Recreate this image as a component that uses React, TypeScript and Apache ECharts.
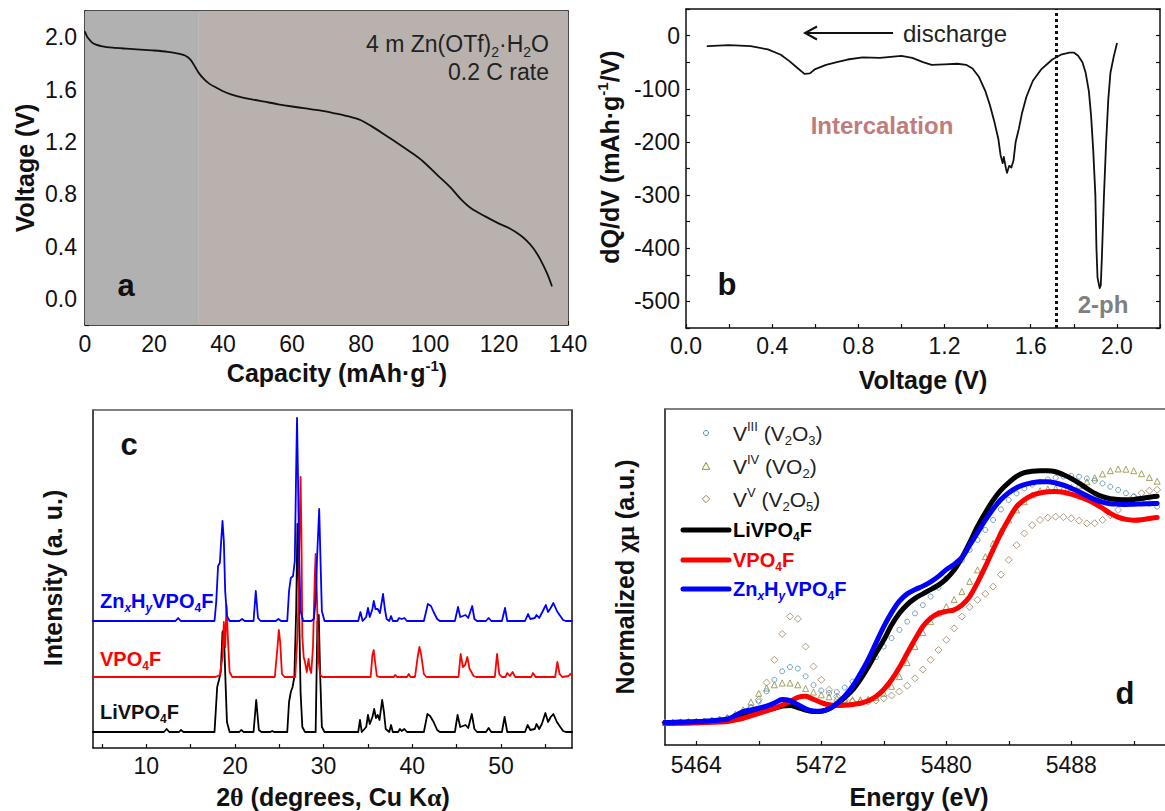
import { useEffect, useRef } from 'react';
import * as echarts from 'echarts';

const FONT = "'Liberation Sans', Arial, Helvetica, sans-serif";
const SERIF = "'Liberation Serif', 'DejaVu Serif', serif";
const INK = '#111111';

// ---------- (a) galvanostatic discharge curve ----------
const capacity = [0, 0.5, 1, 2, 3, 5, 8, 12, 16, 20, 24, 27, 29, 30.5, 32, 33, 34.5, 36, 38, 41, 44, 48, 52, 56, 60, 64, 68, 72, 76, 80, 83, 86, 90, 95, 98, 102, 106, 109, 112, 116, 120, 123, 126, 128, 130, 132, 134, 135.3];
const voltage = [2.04, 2.01, 1.99, 1.96, 1.945, 1.93, 1.92, 1.912, 1.905, 1.898, 1.888, 1.875, 1.86, 1.83, 1.77, 1.725, 1.68, 1.645, 1.615, 1.575, 1.55, 1.527, 1.507, 1.487, 1.47, 1.455, 1.44, 1.42, 1.397, 1.365, 1.32, 1.27, 1.2, 1.11, 1.05, 0.95, 0.85, 0.76, 0.69, 0.63, 0.575, 0.54, 0.49, 0.445, 0.385, 0.3, 0.19, 0.1];
const shadeSplit = 33;

// ---------- (b) differential capacity ----------
const dqdvVoltage = [0.1, 0.2, 0.3, 0.38, 0.44, 0.48, 0.52, 0.55, 0.575, 0.6, 0.65, 0.7, 0.75, 0.82, 0.9, 1.0, 1.05, 1.1, 1.14, 1.2, 1.26, 1.3, 1.33, 1.36, 1.39, 1.41, 1.43, 1.45, 1.46, 1.47, 1.475, 1.485, 1.49, 1.5, 1.51, 1.52, 1.53, 1.545, 1.56, 1.58, 1.61, 1.65, 1.7, 1.74, 1.78, 1.8, 1.82, 1.84, 1.855, 1.87, 1.88, 1.89, 1.9, 1.905, 1.91, 1.915, 1.92, 1.925, 1.93, 1.94, 1.95, 1.96, 1.97, 1.985, 2.0];
const dqdvValue = [-20, -18, -20, -26, -36, -48, -62, -72, -71, -63, -55, -50, -45, -41, -42, -38, -42, -50, -55, -54, -53, -55, -62, -78, -105, -130, -160, -195, -225, -240, -228, -250, -258, -245, -248, -235, -200, -175, -145, -115, -85, -63, -45, -36, -32, -32, -38, -50, -70, -105, -150, -215, -300, -400, -455, -465, -475, -470, -420, -300, -200, -120, -70, -40, -15];
const twoPhaseBoundary = 1.72;

// ---------- (c) XRD patterns: [2theta, intensity above own baseline] ----------
const xrdOffsetLi = 16;
const xrdOffsetV = 71;
const xrdOffsetZn = 127;
const xrdLi = [[4, 0], [12.0, 0], [12.3, 3], [12.6, 0], [13.7, 0], [13.9, 2], [14.2, 0], [17.7, 0], [18.0, 45], [18.2, 52], [18.4, 60], [18.6, 100], [18.75, 102], [18.9, 60], [19.1, 10], [19.4, 0], [20.5, 0], [20.7, 2], [21, 0], [22.1, 0], [22.4, 32], [22.7, 2], [23.0, 0], [24.0, 0], [24.2, 1], [24.4, 0], [25.9, 0], [26.1, 30], [26.3, 40], [26.5, 45], [26.7, 55], [26.9, 120], [27.05, 208], [27.2, 140], [27.4, 40], [27.6, 5], [27.9, 0], [29.1, 0], [29.3, 110], [29.45, 117], [29.6, 60], [29.8, 5], [30.1, 0], [33.9, 0], [34.1, 12], [34.3, 0], [34.8, 5], [35.0, 17], [35.2, 8], [35.5, 15], [35.7, 23], [35.9, 14], [36.1, 17], [36.3, 12], [36.6, 32], [36.8, 20], [37.0, 3], [37.4, 0], [37.6, 7], [37.8, 0], [38.4, 0], [38.6, 3], [38.8, 1], [39.1, 3], [39.4, 0], [41.3, 0], [41.7, 18], [42.0, 16], [42.4, 10], [42.8, 2], [43.1, 0], [44.8, 0], [45.1, 17], [45.4, 5], [45.7, 6], [46.0, 7], [46.3, 4], [46.7, 18], [47.0, 3], [47.3, 0], [48.3, 0], [48.6, 4], [48.9, 0], [50.1, 0], [50.4, 15], [50.7, 0], [52.7, 0], [53.0, 7], [53.3, 2], [53.8, 3], [54.0, 8], [54.3, 3], [54.6, 8], [55.0, 19], [55.3, 10], [55.6, 15], [55.9, 18], [56.3, 10], [56.6, 6], [57.0, 1], [57.3, 0], [58, 0]];
const xrdV = [[4, 0], [17.8, 0], [18.3, 2], [18.6, 20], [18.75, 55], [18.9, 30], [19.05, 72], [19.2, 40], [19.4, 5], [19.7, 0], [24.5, 0], [24.8, 30], [24.95, 47], [25.1, 35], [25.3, 3], [25.6, 0], [26.8, 0], [27.1, 50], [27.3, 150], [27.4, 200], [27.5, 140], [27.6, 40], [27.75, 20], [27.9, 15], [28.1, 5], [28.3, 18], [28.45, 8], [28.6, 4], [28.8, 30], [29.0, 100], [29.1, 123], [29.25, 80], [29.4, 20], [29.6, 2], [29.9, 0], [35.3, 0], [35.5, 22], [35.65, 27], [35.8, 15], [36.0, 1], [36.3, 0], [37.9, 0], [38.05, 2], [38.3, 0], [39.4, 0], [39.6, 3], [39.8, 0], [40.3, 0], [40.6, 20], [40.8, 30], [41.0, 22], [41.3, 3], [41.6, 0], [45.2, 0], [45.45, 23], [45.7, 10], [45.95, 12], [46.2, 20], [46.45, 8], [46.6, 6], [46.9, 1], [47.2, 0], [49.3, 0], [49.55, 23], [49.8, 3], [50.1, 0], [50.5, 0], [50.7, 4], [51.0, 1], [51.3, 5], [51.6, 0], [53.4, 0], [53.6, 4], [53.9, 0], [56.1, 0], [56.35, 15], [56.6, 3], [56.9, 0], [57.6, 1], [57.8, 3], [58, 1]];
const xrdZn = [[4, 0], [13.3, 0], [13.6, 3], [13.9, 0], [17.7, 0], [17.9, 20], [18.1, 55], [18.3, 58], [18.45, 80], [18.6, 100], [18.75, 80], [18.9, 30], [19.1, 5], [19.4, 0], [20.5, 0], [20.8, 2], [21.1, 0], [22.1, 0], [22.35, 30], [22.6, 3], [22.9, 0], [24.6, 0], [24.9, 2], [25.2, 0], [25.9, 0], [26.1, 30], [26.3, 43], [26.55, 45], [26.75, 60], [26.9, 150], [27.0, 203], [27.1, 150], [27.25, 60], [27.4, 10], [27.7, 0], [28.6, 0], [28.9, 2], [29.1, 20], [29.25, 61], [29.5, 112], [29.65, 60], [29.8, 10], [30.1, 0], [33.9, 0], [34.15, 9], [34.4, 0], [34.8, 4], [35.0, 13], [35.2, 4], [35.5, 12], [35.65, 20], [35.85, 12], [36.1, 12], [36.35, 8], [36.7, 27], [36.9, 12], [37.1, 2], [37.4, 0], [37.6, 5], [37.8, 0], [38.3, 0], [38.5, 3], [38.8, 2], [39.1, 3], [39.4, 0], [41.3, 0], [41.75, 17], [42.1, 15], [42.4, 9], [42.8, 2], [43.1, 0], [44.8, 0], [45.15, 14], [45.4, 4], [45.7, 5], [46.0, 6], [46.3, 3], [46.75, 15], [47.0, 2], [47.3, 0], [48.3, 0], [48.6, 3], [48.9, 0], [50.1, 0], [50.45, 13], [50.7, 0], [52.7, 0], [53.05, 7], [53.3, 2], [53.8, 3], [54.0, 6], [54.3, 3], [54.6, 8], [55.05, 16], [55.3, 9], [55.6, 13], [55.9, 18], [56.3, 10], [56.6, 6], [57.0, 1], [57.3, 0], [58, 0]];

// ---------- (d) V K-edge XANES ----------
const energy = [
  5462, 5462.5, 5463, 5463.5, 5464, 5464.5, 5465, 5465.5,
  5466, 5466.5, 5467, 5467.5, 5468, 5468.5, 5469, 5469.5,
  5470, 5470.5, 5471, 5471.5, 5472, 5472.5, 5473, 5473.5,
  5474, 5474.5, 5475, 5475.5, 5476, 5476.5, 5477, 5477.5,
  5478, 5478.5, 5479, 5479.5, 5480, 5480.5, 5481, 5481.5,
  5482, 5482.5, 5483, 5483.5, 5484, 5484.5, 5485, 5485.5,
  5486, 5486.5, 5487, 5487.5, 5488, 5488.5, 5489, 5489.5,
  5490, 5490.5, 5491, 5491.5, 5492, 5492.5, 5493, 5493.5,
];
const muLiVPO4F = [
  0.000, 0.000, 0.001, 0.002, 0.003, 0.004, 0.005, 0.007,
  0.010, 0.016, 0.024, 0.033, 0.042, 0.050, 0.057, 0.066,
  0.068, 0.060, 0.050, 0.044, 0.045, 0.055, 0.075, 0.100,
  0.130, 0.172, 0.222, 0.278, 0.330, 0.390, 0.437, 0.472,
  0.497, 0.515, 0.532, 0.550, 0.575, 0.610, 0.660, 0.720,
  0.785, 0.840, 0.890, 0.930, 0.960, 0.985, 1.000, 1.006,
  1.008, 1.008, 1.004, 0.992, 0.977, 0.958, 0.937, 0.918,
  0.904, 0.896, 0.893, 0.892, 0.893, 0.897, 0.902, 0.906,
];
const muVPO4F = [
  -0.004, -0.004, -0.003, -0.002, -0.001, 0.000, 0.001, 0.002,
  0.004, 0.010, 0.017, 0.027, 0.037, 0.047, 0.057, 0.070,
  0.084, 0.101, 0.105, 0.093, 0.080, 0.071, 0.068, 0.069,
  0.072, 0.077, 0.087, 0.104, 0.132, 0.171, 0.220, 0.277,
  0.333, 0.384, 0.418, 0.437, 0.445, 0.451, 0.470, 0.504,
  0.560, 0.624, 0.692, 0.757, 0.815, 0.864, 0.892, 0.910,
  0.919, 0.924, 0.925, 0.922, 0.914, 0.904, 0.892, 0.877,
  0.858, 0.837, 0.822, 0.813, 0.810, 0.812, 0.817, 0.821,
];
const muZnHVPO4F = [
  0.000, 0.000, 0.001, 0.002, 0.003, 0.005, 0.007, 0.010,
  0.014, 0.028, 0.044, 0.050, 0.057, 0.066, 0.078, 0.092,
  0.088, 0.072, 0.055, 0.046, 0.045, 0.055, 0.075, 0.105,
  0.144, 0.195, 0.252, 0.318, 0.384, 0.440, 0.486, 0.515,
  0.532, 0.546, 0.563, 0.585, 0.612, 0.633, 0.660, 0.710,
  0.760, 0.810, 0.855, 0.893, 0.920, 0.940, 0.952, 0.960,
  0.964, 0.964, 0.959, 0.950, 0.938, 0.924, 0.908, 0.893,
  0.882, 0.876, 0.874, 0.873, 0.874, 0.875, 0.876, 0.877,
];
const muV2O3 = [
  0.000, 0.000, 0.001, 0.002, 0.003, 0.005, 0.008, 0.012,
  0.018, 0.028, 0.042, 0.060, 0.084, 0.125, 0.171, 0.205,
  0.222, 0.216, 0.185, 0.150, 0.128, 0.118, 0.122, 0.140,
  0.164, 0.192, 0.224, 0.262, 0.304, 0.338, 0.371, 0.404,
  0.437, 0.470, 0.504, 0.540, 0.577, 0.614, 0.651, 0.691,
  0.731, 0.771, 0.811, 0.853, 0.891, 0.917, 0.937, 0.952,
  0.964, 0.973, 0.980, 0.985, 0.987, 0.984, 0.977, 0.968,
  0.957, 0.944, 0.931, 0.918, 0.904, 0.891, 0.877, 0.864,
];
const muVO2 = [
  0.000, 0.000, 0.001, 0.002, 0.003, 0.005, 0.008, 0.012,
  0.020, 0.033, 0.051, 0.082, 0.117, 0.138, 0.151, 0.158,
  0.158, 0.151, 0.136, 0.122, 0.111, 0.103, 0.097, 0.093,
  0.091, 0.091, 0.093, 0.101, 0.117, 0.145, 0.184, 0.240,
  0.304, 0.360, 0.404, 0.438, 0.464, 0.492, 0.524, 0.565,
  0.611, 0.664, 0.717, 0.766, 0.811, 0.851, 0.884, 0.911,
  0.928, 0.935, 0.937, 0.938, 0.941, 0.950, 0.964, 0.980,
  0.995, 1.008, 1.015, 1.014, 1.008, 0.996, 0.981, 0.966,
];
const muV2O5 = [
  0.000, 0.000, 0.001, 0.002, 0.003, 0.004, 0.006, 0.010,
  0.015, 0.024, 0.037, 0.058, 0.091, 0.160, 0.251, 0.355,
  0.425, 0.415, 0.304, 0.224, 0.171, 0.131, 0.104, 0.092,
  0.084, 0.082, 0.083, 0.088, 0.097, 0.108, 0.124, 0.147,
  0.177, 0.212, 0.251, 0.290, 0.331, 0.377, 0.424, 0.462,
  0.491, 0.515, 0.544, 0.592, 0.651, 0.710, 0.757, 0.790,
  0.811, 0.820, 0.824, 0.822, 0.817, 0.808, 0.797, 0.798,
  0.811, 0.830, 0.851, 0.878, 0.904, 0.918, 0.928, 0.932,
];

const xrdTicks = [5, 10, 15, 20, 25, 30, 35, 40, 45, 50, 55];
const xrdLabels = [10, 20, 30, 40, 50];
const energyTicks = [5464, 5468, 5472, 5476, 5480, 5484, 5488, 5492];
const energyLabels = [5464, 5472, 5480, 5488];

const C_V2O3 = '#4f8db0';
const C_VO2 = '#8c8c3a';
const C_V2O5 = '#a07f5e';

function pairs(xs: number[], ys: number[]) {
  return xs.map((x, i) => [x, ys[i]]);
}
function shift(pts: number[][], off: number) {
  return pts.map(([x, y]) => [x, y + off]);
}

// rich text styles: n normal, s superscript, b subscript, i italic subscript, g greek (serif)
function richStyles(size: number, weight: string, color: string) {
  const small = Math.round(size * 0.6);
  const base = { fontFamily: FONT, fontWeight: weight, fill: color, color };
  return {
    n: { ...base, fontSize: size, lineHeight: size + 6 },
    s: { ...base, fontSize: small, lineHeight: Math.round(size * 0.7), verticalAlign: 'top' },
    b: { ...base, fontSize: small, lineHeight: Math.round(size * 0.5), verticalAlign: 'bottom' },
    i: { ...base, fontSize: small, fontStyle: 'italic', lineHeight: Math.round(size * 0.5), verticalAlign: 'bottom' },
    g: { ...base, fontFamily: SERIF, fontSize: size + 1, lineHeight: size + 6 },
  };
}

function label(text: string, x: number, y: number, size: number, weight: string, color: string, opts: any = {}) {
  return {
    type: 'text',
    x,
    y,
    rotation: opts.rotation || 0,
    z: 100,
    style: {
      text,
      rich: richStyles(size, weight, color),
      align: opts.align || 'center',
      verticalAlign: 'middle',
    },
  };
}

const tickStyle = { inside: true, length: 4, lineStyle: { color: INK, width: 1.2 } };
const lineStyleAxis = { onZero: false, lineStyle: { color: INK, width: 1.5 } };
const tickLabel = { color: INK, fontSize: 23, fontFamily: FONT, margin: 7 };

function frameX(gridIndex: number, min: number, max: number, color = INK) {
  return {
    type: 'value', gridIndex, position: 'top', min, max,
    axisLine: { show: true, onZero: false, lineStyle: { color, width: 1.5 } },
    axisTick: { show: false }, axisLabel: { show: false }, splitLine: { show: false },
  };
}
function frameY(gridIndex: number, min: number, max: number, color = INK, ticks: any = null) {
  return {
    type: 'value', gridIndex, position: 'right', min, max,
    interval: ticks ? ticks.interval : undefined,
    axisLine: { show: true, onZero: false, lineStyle: { color, width: 1.5 } },
    axisTick: ticks ? { ...tickStyle } : { show: false },
    axisLabel: { show: false }, splitLine: { show: false },
  };
}

function buildOption() {
  const everyOther = (step: number, lo: number, hi: number, digits: number) => (v: number) => {
    const r = Math.round(v / step);
    if (Math.abs(v / step - r) > 1e-6 || v < lo - 1e-9 || v > hi + 1e-9) return '';
    return (r * step).toFixed(digits);
  };
  const plain = (v: number) => String(v);

  const grids = [
    { left: 85, top: 11, width: 483, height: 314 },
    { left: 686, top: 9, width: 474, height: 319 },
    { left: 93, top: 410, width: 479, height: 338 },
    { left: 665, top: 409, width: 509, height: 336 },
  ];

  const xAxis: any[] = [
    {
      type: 'value', gridIndex: 0, min: 0, max: 140, interval: 10,
      axisLine: lineStyleAxis, axisTick: tickStyle, splitLine: { show: false },
      axisLabel: { ...tickLabel, formatter: everyOther(20, 0, 140, 0) },
    },
    {
      type: 'value', gridIndex: 1, min: 0, max: 2.2, interval: 0.2,
      axisLine: lineStyleAxis, axisTick: tickStyle, splitLine: { show: false },
      axisLabel: { ...tickLabel, margin: 6, formatter: everyOther(0.4, 0, 2.0, 1) },
    },
    {
      type: 'value', gridIndex: 2, min: 4, max: 58,
      axisLine: lineStyleAxis, axisTick: { ...tickStyle, customValues: xrdTicks }, splitLine: { show: false },
      axisLabel: { ...tickLabel, margin: 6, customValues: xrdLabels, formatter: plain },
    },
    {
      type: 'value', gridIndex: 3, min: 5462, max: 5494,
      axisLine: lineStyleAxis, axisTick: { ...tickStyle, customValues: energyTicks }, splitLine: { show: false },
      axisLabel: { ...tickLabel, margin: 8, customValues: energyLabels, formatter: plain },
    },
    frameX(0, 0, 140),
    frameX(1, 0, 2.2),
    frameX(2, 4, 58, '#555'),
    frameX(3, 5462, 5494, '#555'),
  ];

  const yAxis: any[] = [
    {
      type: 'value', gridIndex: 0, min: -0.2, max: 2.2, interval: 0.2,
      axisLine: lineStyleAxis, axisTick: tickStyle, splitLine: { show: false },
      axisLabel: { ...tickLabel, margin: 8, formatter: everyOther(0.4, 0, 2.0, 1) },
    },
    {
      type: 'value', gridIndex: 1, min: -550, max: 50, interval: 50,
      axisLine: lineStyleAxis, axisTick: tickStyle, splitLine: { show: false },
      axisLabel: { ...tickLabel, margin: 6, formatter: everyOther(100, -500, 0, 0) },
    },
    {
      type: 'value', gridIndex: 2, min: 0, max: 338,
      axisLine: lineStyleAxis, axisTick: { show: false }, axisLabel: { show: false }, splitLine: { show: false },
    },
    {
      type: 'value', gridIndex: 3, min: -0.09, max: 1.255,
      axisLine: lineStyleAxis, axisTick: { show: false }, axisLabel: { show: false }, splitLine: { show: false },
    },
    frameY(0, -0.2, 2.2),
    frameY(1, -550, 50, INK, { interval: 50 }),
    frameY(2, 0, 338),
  ];

  const solid = (name: string, xi: number, data: number[][], color: string, width: number, z: number, extra: any = {}) => ({
    name, type: 'line', xAxisIndex: xi, yAxisIndex: xi, data,
    symbol: 'none', z, silent: true,
    lineStyle: { color, width, cap: 'round', join: 'round' },
    ...extra,
  });
  const markers = (name: string, data: number[][], symbol: string, size: number, color: string) => ({
    name, type: 'scatter', xAxisIndex: 3, yAxisIndex: 3, data, symbol, symbolSize: size, z: 2, silent: true,
    itemStyle: { color: 'rgba(255,255,255,0)', borderColor: color, borderWidth: 1 },
  });

  const series: any[] = [
    {
      type: 'line', xAxisIndex: 0, yAxisIndex: 0, data: [], z: 1, silent: true,
      markArea: {
        silent: true,
        data: [
          [{ xAxis: 0, yAxis: -0.2, itemStyle: { color: '#b1b1b1' } }, { xAxis: shadeSplit, yAxis: 2.2 }],
          [{ xAxis: shadeSplit, yAxis: -0.2, itemStyle: { color: '#b9b1ae' } }, { xAxis: 140, yAxis: 2.2 }],
        ],
      },
    },
    solid('discharge', 0, pairs(capacity, voltage), INK, 1.8, 5, { smooth: 0.3 }),
    solid('dQdV', 1, pairs(dqdvVoltage, dqdvValue), INK, 1.8, 5, {
      markLine: {
        silent: true, symbol: ['none', 'none'], label: { show: false },
        lineStyle: { color: INK, type: [3, 3], width: 3 },
        data: [{ xAxis: twoPhaseBoundary }],
      },
    }),
    solid('LiVPO4F xrd', 2, shift(xrdLi, xrdOffsetLi), '#000000', 1.8, 3),
    solid('VPO4F xrd', 2, shift(xrdV, xrdOffsetV), '#ff0000', 1.8, 4),
    solid('ZnHVPO4F xrd', 2, shift(xrdZn, xrdOffsetZn), '#0000ff', 1.8, 5),
    markers('V2O5', pairs(energy, muV2O5), 'diamond', 7, C_V2O5),
    markers('VO2', pairs(energy, muVO2), 'triangle', 6, C_VO2),
    markers('V2O3', pairs(energy, muV2O3), 'circle', 5, C_V2O3),
    solid('LiVPO4F xanes', 3, pairs(energy, muLiVPO4F), '#000000', 5, 6, { smooth: 0.3 }),
    solid('VPO4F xanes', 3, pairs(energy, muVPO4F), '#ff0000', 5, 7, { smooth: 0.3 }),
    solid('ZnHVPO4F xanes', 3, pairs(energy, muZnHVPO4F), '#0000ff', 5, 8, { smooth: 0.3 }),
  ];

  const V = Math.PI / 2;
  const graphic: any[] = [
    // axis titles
    label('{n|Capacity (mAh·g}{s|-1}{n|)}', 337, 373, 25, 'bold', INK),
    label('{n|Voltage (V)}', 25, 168, 25, 'bold', INK, { rotation: V }),
    label('{n|dQ/dV (mAh·g}{s|-1}{n|/V)}', 610, 157, 25, 'bold', INK, { rotation: V }),
    label('{n|Voltage (V)}', 923, 380, 25, 'bold', INK),
    label('{n|Intensity (a. u.)}', 53, 578, 25, 'bold', INK, { rotation: V }),
    label('{n|2}{g|θ}{n| (degrees, Cu K}{g|α}{n|)}', 333, 797, 25, 'bold', INK),
    label('{n|Energy (eV)}', 919, 797, 25, 'bold', INK),
    label('{n|Normalized }{g|χμ}{n| (a.u.)}', 625, 577, 25, 'bold', INK, { rotation: V }),
    // panel letters
    label('{n|a}', 126, 285, 31, 'bold', INK),
    label('{n|b}', 727, 284, 31, 'bold', INK),
    label('{n|c}', 129, 444, 31, 'bold', INK),
    label('{n|d}', 1125, 693, 31, 'bold', INK),
    // panel a annotation
    label('{n|4 m Zn(OTf)}{b|2}{n|·H}{b|2}{n|O}', 549, 44, 23, 'normal', '#222', { align: 'right' }),
    label('{n|0.2 C rate}', 549, 72, 23, 'normal', '#222', { align: 'right' }),
    // panel b annotations
    {
      type: 'line', z: 100, shape: { x1: 893, y1: 33, x2: 806, y2: 33 },
      style: { stroke: INK, lineWidth: 2 },
    },
    {
      type: 'polyline', z: 100, shape: { points: [[817, 26.5], [805, 33], [817, 39.5]] },
      style: { stroke: INK, lineWidth: 2, fill: 'none' },
    },
    label('{n|discharge}', 903, 33, 24, 'normal', '#222', { align: 'left' }),
    label('{n|Intercalation}', 882, 125, 24, 'bold', '#c27b7b'),
    label('{n|2-ph}', 1103, 304, 24, 'bold', '#808080'),
    // panel c labels
    label('{n|Zn}{i|x}{n|H}{i|y}{n|VPO}{b|4}{n|F}', 100, 601, 20, 'bold', '#0000ff', { align: 'left' }),
    label('{n|VPO}{b|4}{n|F}', 100, 659, 20, 'bold', '#ff0000', { align: 'left' }),
    label('{n|LiVPO}{b|4}{n|F}', 100, 712, 20, 'bold', INK, { align: 'left' }),
    // panel d key
    { type: 'circle', z: 100, shape: { cx: 706, cy: 433, r: 2.5 }, style: { fill: 'none', stroke: C_V2O3, lineWidth: 1 } },
    { type: 'polygon', z: 100, shape: { points: [[706, 462.5], [709.8, 469.3], [702.2, 469.3]] }, style: { fill: 'none', stroke: C_VO2, lineWidth: 1 } },
    { type: 'polygon', z: 100, shape: { points: [[706, 495.3], [709.7, 499], [706, 502.7], [702.3, 499]] }, style: { fill: 'none', stroke: C_V2O5, lineWidth: 1 } },
    label('{n|V}{s|III}{n| (V}{b|2}{n|O}{b|3}{n|)}', 733, 433, 21, 'normal', '#222', { align: 'left' }),
    label('{n|V}{s|IV}{n| (VO}{b|2}{n|)}', 733, 466, 21, 'normal', '#222', { align: 'left' }),
    label('{n|V}{s|V}{n| (V}{b|2}{n|O}{b|5}{n|)}', 733, 499, 21, 'normal', '#222', { align: 'left' }),
    { type: 'line', z: 100, shape: { x1: 683, y1: 530, x2: 729, y2: 530 }, style: { stroke: '#000', lineWidth: 5, lineCap: 'round' } },
    { type: 'line', z: 100, shape: { x1: 683, y1: 560, x2: 729, y2: 560 }, style: { stroke: '#ff0000', lineWidth: 5, lineCap: 'round' } },
    { type: 'line', z: 100, shape: { x1: 683, y1: 589, x2: 729, y2: 589 }, style: { stroke: '#0000ff', lineWidth: 5, lineCap: 'round' } },
    label('{n|LiVPO}{b|4}{n|F}', 733, 530, 20, 'bold', '#000', { align: 'left' }),
    label('{n|VPO}{b|4}{n|F}', 733, 560, 20, 'bold', '#ff0000', { align: 'left' }),
    label('{n|Zn}{i|x}{n|H}{i|y}{n|VPO}{b|4}{n|F}', 733, 589, 20, 'bold', '#0000ff', { align: 'left' }),
  ];

  return {
    animation: false,
    backgroundColor: '#ffffff',
    textStyle: { fontFamily: FONT },
    grid: grids,
    xAxis,
    yAxis,
    series,
    graphic,
  };
}

export default function App() {
  const ref = useRef<HTMLDivElement>(null);
  useEffect(() => {
    if (!ref.current) return;
    const chart = echarts.init(ref.current, null, { renderer: 'svg' });
    chart.setOption(buildOption() as any);
    return () => chart.dispose();
  }, []);
  return (
    <div
      ref={ref}
      style={{ position: 'fixed', left: 0, top: 0, width: 1165, height: 811, background: '#fff', overflow: 'hidden' }}
    />
  );
}
